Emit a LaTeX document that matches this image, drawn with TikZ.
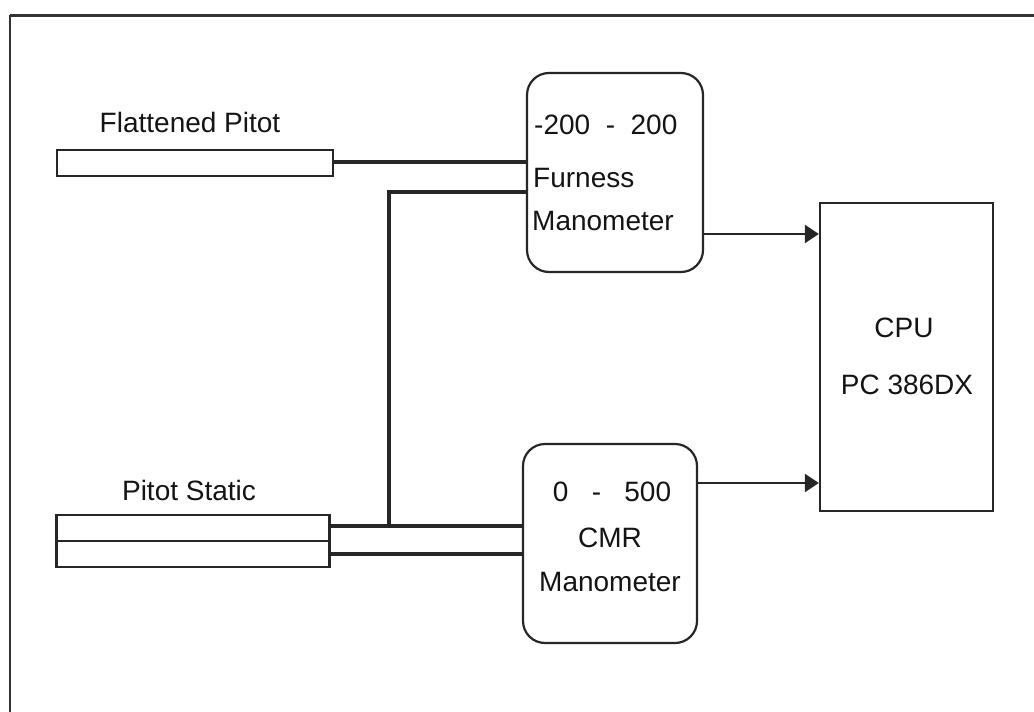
\documentclass[tikz,border=0pt]{standalone}
\usepackage{fontspec}
\setmainfont{Liberation Sans}
\usetikzlibrary{arrows.meta,calc}
\begin{document}
\begin{tikzpicture}[x=1pt,y=-1pt,
  lbl/.style={font=\fontsize{28}{30}\selectfont, text=black!92, inner sep=0pt},
  tube/.style={draw=black!85, line width=2.2pt, minimum width=#1, minimum height=26pt, inner sep=0pt},
  mano/.style={draw=black!85, line width=2.2pt, rounded corners=22pt, minimum width=176pt, minimum height=199pt, inner sep=0pt},
  pipe/.style={draw=black!85, line width=4pt},
  sig/.style={draw=black!85, line width=2pt, -{Triangle[length=14pt,width=18pt]}}]
\useasboundingbox (0,0) rectangle (1034,712);
% frame
\draw[black!80, line width=3pt] (10,15) -- (1034,15);
\draw[black!80, line width=2pt] (10,15) -- (10,712);
% tubes
\node[tube=276pt] (flat) at (195,163) {};
\node[lbl] (flatlbl) at (190,122) {Flattened Pitot};
\node[tube=273pt] (ps1) at (193,528) {};
\node[tube=273pt] (ps2) at (193,554) {};
\node[lbl] (pslbl) at (189,490) {Pitot Static};
% manometers
\node[mano] (fur) at (615,172.5) {};
\node[mano, minimum width=174pt] (cmr) at (610,543.5) {};
\node[lbl, anchor=west] (fur1) at (534,125) {-200\ \ -\ \ 200};
\node[lbl, anchor=west] (fur2) at (533,178) {Furness};
\node[lbl, anchor=west] (fur3) at (532,221) {Manometer};
\node[lbl] (cmr1) at (612,492) {0\ \ \ -\ \ \ 500};
\node[lbl] (cmr2) at (610,538) {CMR};
\node[lbl] (cmr3) at (610,582) {Manometer};
% CPU
\node[draw=black!85, line width=2.2pt, minimum width=173pt, minimum height=308pt, inner sep=0pt] (cpu) at (906.5,357) {};
\node[lbl] (cpu1) at (904,328) {CPU};
\node[lbl] (cpu2) at (907,385) {PC 386DX};
% pipes
\coordinate (f1) at ($(fur.west)+(0,-11)$);
\coordinate (f2) at ($(fur.west)+(0,19.5)$);
\draw[pipe] (flat.east |- f1) -- (f1);
\coordinate (j) at (389,526);
\draw[pipe] (f2) -- (f2 -| j) -- (j);
\draw[pipe] (ps1.east |- j) -- (j -| cmr.west);
\draw[pipe] (ps2.east) -- (ps2 -| cmr.west);
% signals
\coordinate (a1) at (703,234);
\coordinate (a2) at (697,483);
\draw[sig] (a1) -- (a1 -| cpu.west);
\draw[sig] (a2) -- (a2 -| cpu.west);
\end{tikzpicture}
\end{document}
